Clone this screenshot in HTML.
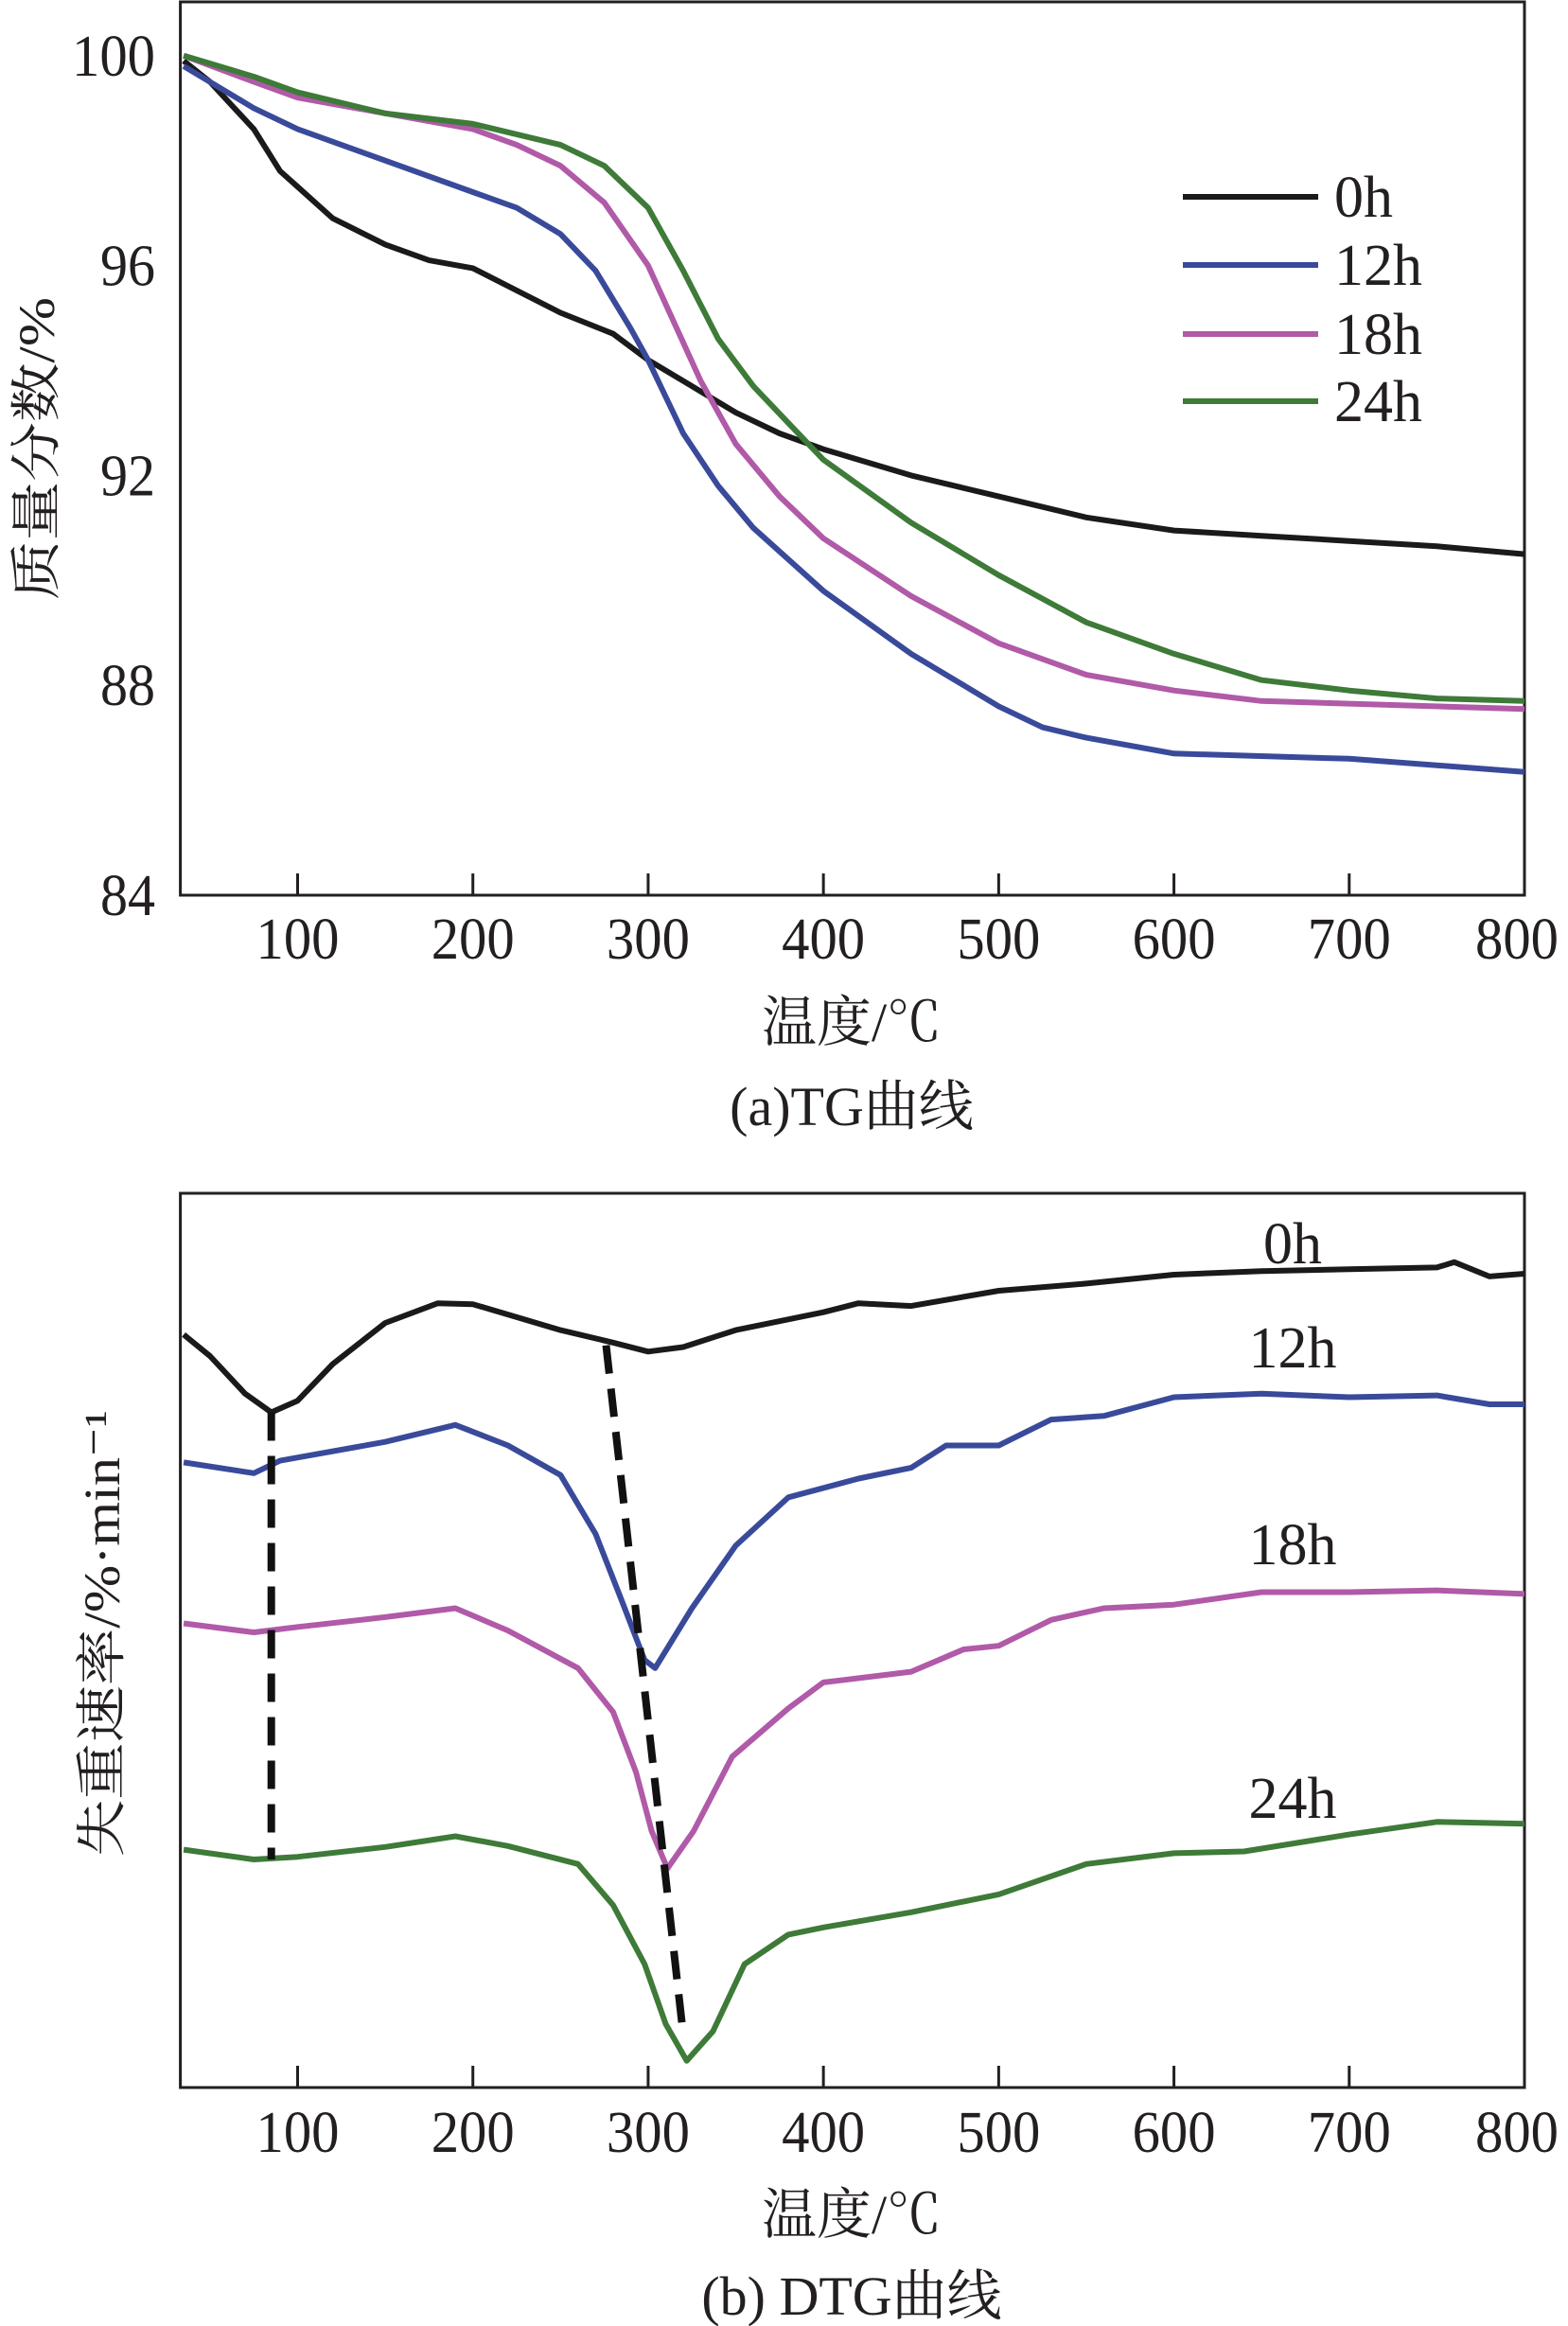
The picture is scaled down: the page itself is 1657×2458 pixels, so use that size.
<!DOCTYPE html>
<html><head><meta charset="utf-8"><style>
html,body{margin:0;padding:0;background:#fff;}
svg{display:block;}
text{font-family:"Liberation Serif","Noto Serif CJK SC",serif;fill:#231f20;}
</style></head><body>
<svg id="fig" width="1657" height="2458" viewBox="0 0 1657 2458" xmlns="http://www.w3.org/2000/svg"></svg>
<script>
// ---- data ----
const tgTemps0 = [35,50,75,90,100,120,150,175,200,250,280,300,325,350,375,400,450,500,550,600,650,700,750,800];
const tg0 = [99.9,99.5,98.6,97.8,97.5,96.9,96.4,96.1,95.95,95.1,94.7,94.2,93.7,93.2,92.8,92.5,92.0,91.6,91.2,90.95,90.85,90.75,90.65,90.5];
const tgTemps12 = [35,75,100,150,200,225,250,270,290,300,320,340,360,380,400,450,500,525,550,600,700,800];
const tg12 = [99.8,99.0,98.6,98.0,97.4,97.1,96.6,95.9,94.8,94.2,92.8,91.8,91.0,90.4,89.8,88.6,87.6,87.2,87.0,86.7,86.6,86.35];
const tgTemps18 = [35,75,100,150,200,225,250,275,300,315,330,350,375,400,450,500,550,600,650,700,800];
const tg18 = [100,99.5,99.2,98.9,98.6,98.3,97.9,97.2,96.0,94.9,93.8,92.6,91.6,90.8,89.7,88.8,88.2,87.9,87.7,87.65,87.55];
const tgTemps24 = [35,75,100,150,200,250,275,300,320,340,360,380,400,450,500,550,600,650,700,750,800];
const tg24 = [100,99.6,99.3,98.9,98.7,98.3,97.9,97.1,95.9,94.6,93.7,93.0,92.3,91.1,90.1,89.2,88.6,88.1,87.9,87.75,87.7];
const xTicks = [100,200,300,400,500,600,700,800];
const yTicksTG = [100,96,92,88,84];

const dtgTemps0 = [35,50,70,85,100,120,150,180,200,250,280,300,320,350,400,420,450,500,550,600,650,700,750,760,780,800];
const dtg0 = [84.2,81.8,77.6,75.5,76.8,80.9,85.5,87.7,87.6,84.7,83.3,82.3,82.8,84.7,86.7,87.7,87.4,89.1,89.9,90.9,91.3,91.5,91.7,92.3,90.7,91.0];
const dtgTemps12 = [35,75,90,150,190,220,250,270,285,298,304,325,350,380,420,450,470,500,530,560,600,650,700,750,780,800];
const dtg12 = [69.9,68.7,70.1,72.2,74.1,71.8,68.5,61.9,54.4,47.8,46.9,53.6,60.6,66.0,68.1,69.3,71.8,71.8,74.7,75.1,77.2,77.6,77.2,77.4,76.4,76.4];
const dtgTemps18 = [35,75,100,150,190,220,260,280,293,302,311,326,348,380,400,450,480,500,530,560,600,650,700,750,800];
const dtg18 = [51.9,50.9,51.5,52.6,53.6,51.1,46.9,42.0,35.3,28.7,24.5,28.7,37.0,42.4,45.3,46.5,49.0,49.4,52.3,53.6,54.0,55.4,55.4,55.6,55.2];
const dtgTemps24 = [35,75,100,150,190,220,260,280,298,310,322,337,355,380,400,450,500,550,600,640,700,750,800];
const dtg24 = [26.6,25.5,25.8,26.9,28.1,27.0,25.0,20.4,13.8,7.1,3.0,6.3,13.8,17.1,17.9,19.6,21.6,25.0,26.2,26.4,28.3,29.7,29.5];
const peakLine1T = [85,85];
const peakLine1V = [75.5,25.5];
const peakLine2T = [276,320];
const peakLine2V = [83.0,5.9];

// ---- scales ----
const NS='http://www.w3.org/2000/svg';
const svg=document.getElementById('fig');
const X0=190.6, X1=1611, T0=33.1, T1=800;
function sx(t){return X0+(t-T0)/(T1-T0)*(X1-X0);}
function syTG(v){return 58.8+(100-v)/16*(946-58.8);}
function syDTG(v){return 2206-v/100*(2206-1261);}
function mk(tag,attrs,txt){const e=document.createElementNS(NS,tag);for(const k in attrs)e.setAttribute(k,attrs[k]);if(txt!==undefined)e.textContent=txt;svg.appendChild(e);return e;}
function pathD(ts,vs,sy){return ts.map((t,i)=>(i?'L':'M')+sx(t).toFixed(1)+','+sy(vs[i]).toFixed(1)).join(' ');}

// ---- TG frame ----
let e=mk('rect',{x:X0,y:2,width:X1-X0,height:944,fill:'none',stroke:'#231f20','stroke-width':3});


xTicks.forEach(t=>{
  let l=mk('line',{x1:sx(t),x2:sx(t),y1:946,y2:923,stroke:'#231f20','stroke-width':3});
  
  
  let tx=mk('text',{x:sx(t)-(t==800?8:0),y:1013,'font-size':62,'text-anchor':'middle',textLength:88,lengthAdjust:'spacingAndGlyphs'},String(t));
  
  
});
yTicksTG.forEach(v=>{
  let tx=mk('text',{x:164,y:syTG(v)+21,'font-size':62,'text-anchor':'end',textLength:v==100?88:58,lengthAdjust:'spacingAndGlyphs'},String(v));
  
  
});
e=mk('text',{x:0,y:0,'font-size':54,'text-anchor':'middle',transform:'translate(57,474) rotate(-90)',textLength:320,lengthAdjust:'spacingAndGlyphs'},'质量分数/%');


e=mk('text',{x:900,y:1100,'font-size':58,'text-anchor':'middle'},'温度/℃');


e=mk('text',{x:900,y:1189,'font-size':58,'text-anchor':'middle'},'(a)TG曲线');



const colors={c0:'#1a1a1a',c12:'#3a4a9a',c18:'#b05aa8',c24:'#3e7a38'};
const tgSeries=[[tgTemps0,tg0,colors.c0,'0h'],[tgTemps12,tg12,colors.c12,'12h'],[tgTemps18,tg18,colors.c18,'18h'],[tgTemps24,tg24,colors.c24,'24h']];
tgSeries.forEach((s,i)=>{
  let p=mk('path',{d:pathD(s[0],s[1],syTG),fill:'none',stroke:s[2],'stroke-width':6,'stroke-linejoin':'round'});
  
  
  const ly=[208,280,353,424][i];
  let l=mk('line',{x1:1250,x2:1393,y1:ly,y2:ly,stroke:s[2],'stroke-width':6});
  
  
  let t=mk('text',{x:1410,y:ly+21,'font-size':62,textLength:s[3].length*31,lengthAdjust:'spacingAndGlyphs'},s[3]);
  
  
});

// ---- DTG frame ----
e=mk('rect',{x:X0,y:1261,width:X1-X0,height:945,fill:'none',stroke:'#231f20','stroke-width':3});


xTicks.forEach(t=>{
  let l=mk('line',{x1:sx(t),x2:sx(t),y1:2206,y2:2183,stroke:'#231f20','stroke-width':3});
  
  
  let tx=mk('text',{x:sx(t)-(t==800?8:0),y:2274,'font-size':62,'text-anchor':'middle',textLength:88,lengthAdjust:'spacingAndGlyphs'},String(t));
  
  
});
e=mk('text',{x:0,y:0,'font-size':54,'text-anchor':'middle',transform:'translate(126,1726) rotate(-90)',textLength:472,lengthAdjust:'spacingAndGlyphs'},'失重速率/%·min⁻¹');


e=mk('text',{x:900,y:2360,'font-size':58,'text-anchor':'middle'},'温度/℃');


e=mk('text',{x:900,y:2446,'font-size':58,'text-anchor':'middle'},'(b) DTG曲线');



const dtgSeries=[[dtgTemps0,dtg0,colors.c0,'0h',1335],[dtgTemps12,dtg12,colors.c12,'12h',1445],[dtgTemps18,dtg18,colors.c18,'18h',1653],[dtgTemps24,dtg24,colors.c24,'24h',1921]];
dtgSeries.forEach(s=>{
  let p=mk('path',{d:pathD(s[0],s[1],syDTG),fill:'none',stroke:s[2],'stroke-width':6,'stroke-linejoin':'round'});
  
  
  let t=mk('text',{x:1366,y:s[4],'font-size':62,'text-anchor':'middle',textLength:s[3].length*31,lengthAdjust:'spacingAndGlyphs'},s[3]);
  
  
});
e=mk('path',{d:pathD(peakLine1T,peakLine1V,syDTG),stroke:'#111','stroke-width':8,'stroke-dasharray':'30 16',fill:'none'});


e=mk('path',{d:pathD(peakLine2T,peakLine2V,syDTG),stroke:'#111','stroke-width':8,'stroke-dasharray':'30 16',fill:'none'});


</script>
</body></html>
